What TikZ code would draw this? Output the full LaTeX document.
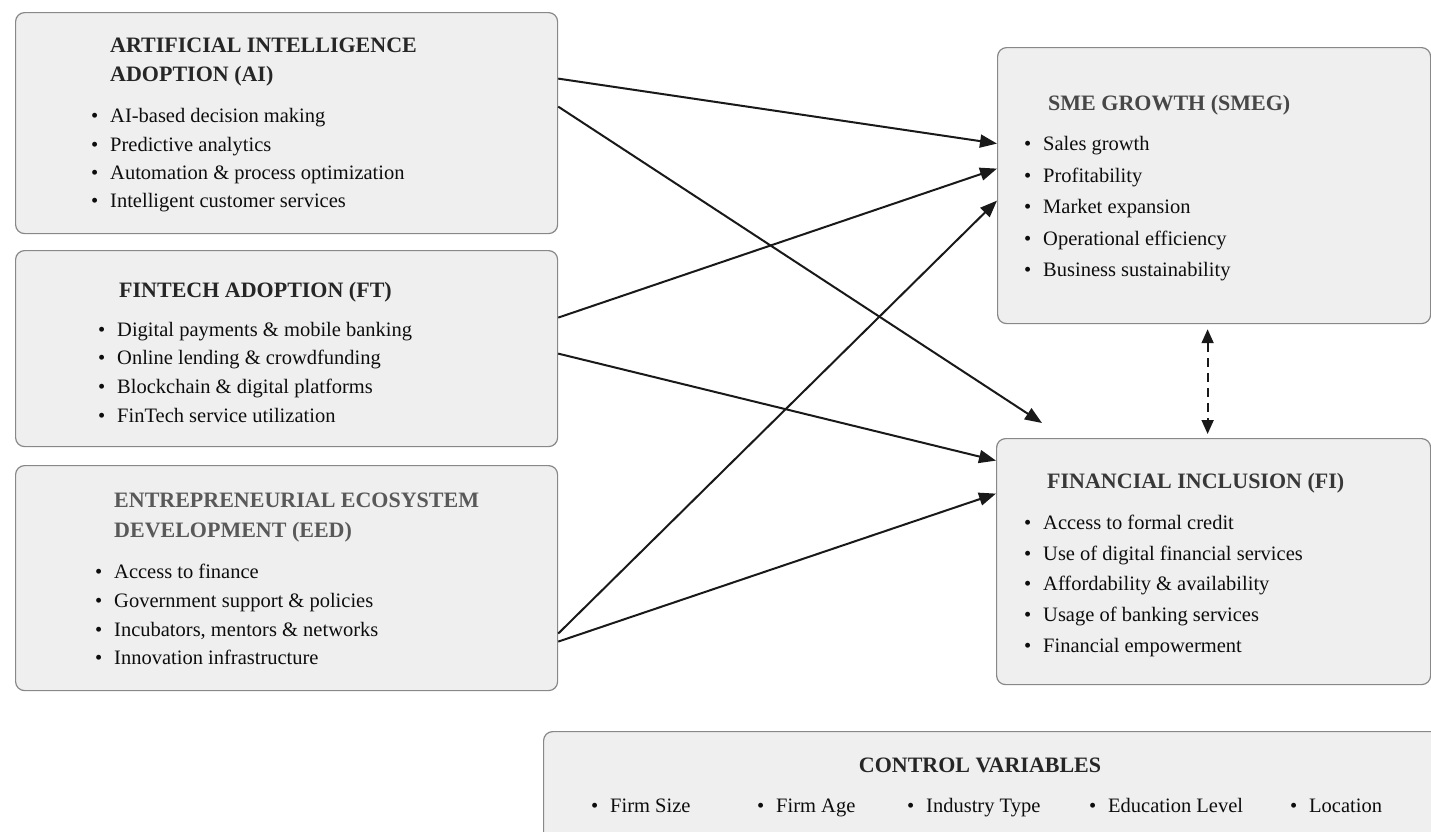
\documentclass[tikz,border=0pt]{standalone}
\usepackage{fontspec}
\setmainfont{Liberation Serif}
\usetikzlibrary{arrows.meta}

\definecolor{boxfill}{HTML}{EFEFEF}
\definecolor{boxline}{HTML}{888888}

\tikzset{
    varbox/.style={draw=boxline, fill=boxfill, line width=1.2pt, rounded corners=9pt, anchor=north west, inner sep=0pt},
    boxtitle/.style={anchor=base west, inner sep=0pt, font=\fontsize{22}{26}\selectfont\bfseries, text=black!85},
    item/.style={anchor=base west, inner sep=0pt, font=\fontsize{20.5}{24}\selectfont, text=black!95,
        execute at begin node={\makebox[0pt][r]{\textbullet\hspace{12pt}}}},
    link/.style={-{Triangle[length=17pt,width=13pt]}, line width=2pt, black!90},
    twoway/.style={{Triangle[length=14pt,width=12pt]}-{Triangle[length=14pt,width=12pt]}, line width=1.8pt, dash pattern=on 9pt off 6pt, black!90}
}

\begin{document}
\begin{tikzpicture}[x=1pt, y=-1pt]
    \useasboundingbox (0,0) rectangle (1431,831);
    \clip (0,0) rectangle (1431,831);

    % Add the independent variable boxes
    \node[varbox, minimum width=542pt, minimum height=221pt] (ai) at (15,12) {};
    \node[varbox, minimum width=542pt, minimum height=196pt] (ft) at (15,250) {};
    \node[varbox, minimum width=542pt, minimum height=225pt] (eed) at (15,465) {};

    % Add the outcome boxes
    \node[varbox, minimum width=433pt, minimum height=276pt] (smeg) at (997,47) {};
    \node[varbox, minimum width=434pt, minimum height=246pt] (fi) at (996,438) {};

    % Add the control variables box
    \node[varbox, minimum width=900pt, minimum height=120pt] (ctrl) at (543,731) {};

    % AI box text
    \node[boxtitle] (aiT1) at (110,52) {ARTIFICIAL INTELLIGENCE};
    \node[boxtitle] (aiT2) at (110,81) {ADOPTION (AI)};
    \foreach \txt/\yy [count=\i] in {AI-based decision making/122, Predictive analytics/151,
        Automation \& process optimization/179, Intelligent customer services/207}
        \node[item] (ai\i) at (110,\yy) {\txt};

    % FT box text
    \node[boxtitle] (ftT) at (119,297) {FINTECH ADOPTION (FT)};
    \foreach \txt/\yy [count=\i] in {Digital payments \& mobile banking/336, Online lending \& crowdfunding/364,
        Blockchain \& digital platforms/393, FinTech service utilization/422}
        \node[item] (ft\i) at (117,\yy) {\txt};

    % EED box text
    \node[boxtitle, text=black!65] (eedT1) at (114,507) {ENTREPRENEURIAL ECOSYSTEM};
    \node[boxtitle, text=black!65] (eedT2) at (114,537) {DEVELOPMENT (EED)};
    \foreach \txt/\yy [count=\i] in {Access to finance/578, Government support \& policies/607,
        {Incubators, mentors \& networks}/636, Innovation infrastructure/664}
        \node[item] (eed\i) at (114,\yy) {\txt};

    % SMEG box text
    \node[boxtitle, text=black!72] (smegT) at (1048,110) {SME GROWTH (SMEG)};
    \foreach \txt/\yy [count=\i] in {Sales growth/150, Profitability/182, Market expansion/213,
        Operational efficiency/245, Business sustainability/276}
        \node[item] (smeg\i) at (1043,\yy) {\txt};

    % FI box text
    \node[boxtitle, text=black!78] (fiT) at (1047,488) {FINANCIAL INCLUSION (FI)};
    \foreach \txt/\yy [count=\i] in {Access to formal credit/529, Use of digital financial services/560,
        Affordability \& availability/590, Usage of banking services/621, Financial empowerment/652}
        \node[item] (fi\i) at (1043,\yy) {\txt};

    % Control variables text
    \node[boxtitle, anchor=base] (ctrlT) at (980,772) {CONTROL VARIABLES};
    \foreach \txt/\xx [count=\i] in {Firm Size/610, Firm Age/776, Industry Type/926,
        Education Level/1108, Location/1309}
        \node[item] (ctrl\i) at (\xx,812) {\txt};

    % Add the direct paths
    \draw[link] ([yshift=44.5pt]ai.east) -- ([yshift=42pt]smeg.west);
    \draw[link] ([yshift=16.5pt]ai.east) -- ([xshift=46pt,yshift=15pt]fi.north west);
    \draw[link] ([yshift=31pt]ft.east) -- ([yshift=17pt]smeg.west);
    \draw[link] ([yshift=-5pt]ft.east) -- ([yshift=101pt]fi.west);
    \draw[link] ([yshift=-55.5pt]eed.east) -- ([yshift=-15pt]smeg.west);
    \draw[link] ([yshift=-63.5pt]eed.east) -- ([yshift=68pt]fi.west);

    % Add the link between the outcomes
    \draw[twoway] ([xshift=-6.5pt,yshift=-5pt]smeg.south) -- ([xshift=-6pt,yshift=4pt]fi.north);
\end{tikzpicture}
\end{document}
